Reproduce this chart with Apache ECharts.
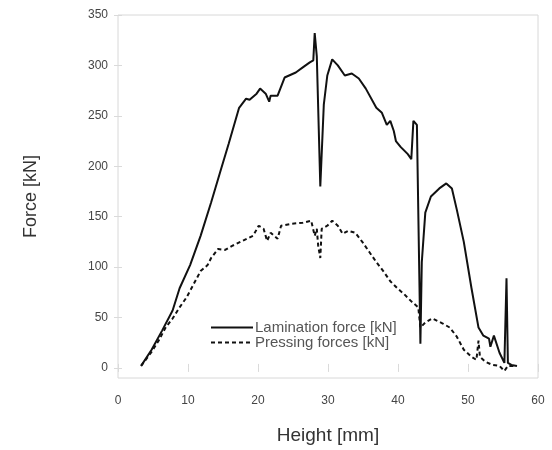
<!DOCTYPE html>
<html>
<head>
<meta charset="utf-8">
<script src="https://cdn.jsdelivr.net/npm/echarts@6/dist/echarts.min.js"></script>
<style>html,body{margin:0;padding:0;background:#fff}#c{width:552px;height:450px}</style>
</head>
<body>
<div id="c"></div>
<script>
// Height [mm] and Lamination force [kN]
var lamX = [3.3,4.8,6.3,7.8,8.8,10.3,11.8,13.3,14.8,15.8,17.3,18.3,18.8,19.8,20.3,21.1,21.6,21.8,22.1,22.8,23.8,25.4,26.4,27.4,27.9,28.1,28.4,28.9,29.4,29.9,30.6,31.4,32.4,33.4,34.4,35.4,36.9,37.7,38.4,38.9,39.4,39.7,40.4,41.4,41.9,42.2,42.7,43.2,43.4,43.9,44.7,45.9,46.9,47.7,48.4,49.4,50.5,51.5,52.2,53.0,53.2,53.7,54.5,55.2,55.5,55.7,56.2,57.0];
var lamY = [2,18,37,57,79,102,131,164,199,222,258,267,266,272,277,272,264,270,270,270,288,293,298,303,305,332,309,180,261,290,306,300,290,292,287,277,258,253,241,245,235,225,219,212,207,245,241,24,105,154,170,178,183,178,157,125,79,40,32,29,21,32,15,5,89,5,3,2];
// Height [mm] and Pressing forces [kN]
var preX = [3.3,4.8,5.8,6.8,7.8,8.8,9.8,10.8,11.8,12.8,13.3,14.3,15.3,16.3,17.8,19.3,20.1,20.8,21.3,21.8,22.8,23.3,24.8,26.4,27.6,28.1,28.4,28.6,28.9,29.1,29.9,30.6,31.4,32.1,32.9,33.9,34.9,35.9,36.9,37.9,38.9,39.9,40.9,41.9,42.9,43.2,43.9,44.9,46.4,47.4,48.4,49.4,50.5,51.2,51.5,51.7,52.5,53.5,54.5,55.2,55.7,56.5];
var preY = [2,16,27,40,49,60,70,83,96,102,109,118,117,121,126,131,141,138,126,134,128,141,143,144,146,131,138,121,109,138,141,146,141,133,136,134,125,115,105,96,86,79,73,66,60,40,45,49,44,40,31,18,11,8,27,11,6,3,2,-3,2,2];
var xTicks = [0,10,20,30,40,50,60];
var yTicks = [0,50,100,150,200,250,300,350];
var seriesNames = ['Lamination force [kN]', 'Pressing forces [kN]'];

function pairs(xs, ys){ return xs.map(function(x,i){ return [x, ys[i]]; }); }

var chart = echarts.init(document.getElementById('c'), null, {renderer:'canvas'});
var tickStyle = {show:true, inside:true, length:4, lineStyle:{color:'#dadada', width:1}};
var labelStyle = {color:'#444', fontSize:12, fontFamily:'Liberation Sans, Arial, sans-serif'};
chart.setOption({
  animation:false,
  backgroundColor:'#fff',
  grid:{left:118, right:14, top:15, bottom:67, show:true, borderColor:'#d8d8d8', borderWidth:1, containLabel:false},
  legend:{
    data:seriesNames, orient:'vertical', left:205, top:315, itemWidth:42, itemHeight:10, itemGap:0,
    itemStyle:{opacity:0, borderWidth:0},
    textStyle:{color:'#555', fontSize:15, lineHeight:15, fontFamily:'Liberation Sans, Arial, sans-serif', padding:[0,0,0,-3]},
    backgroundColor:'transparent'
  },
  xAxis:[{
    type:'value', min:0, max:60, interval:10, position:'bottom',
    axisLine:{show:false}, axisTick:tickStyle, splitLine:{show:false},
    axisLabel:Object.assign({margin:17, customValues:xTicks}, labelStyle),
    name:'Height [mm]', nameLocation:'middle', nameGap:48,
    nameTextStyle:{color:'#333', fontSize:19, fontFamily:'Liberation Sans, Arial, sans-serif'}
  },{
    type:'value', min:0, max:60, interval:10, position:'top',
    axisLine:{show:false}, axisTick:tickStyle, axisLabel:{show:false}, splitLine:{show:false}
  }],
  yAxis:[{
    type:'value', min:-10, max:350, position:'left',
    axisLine:{show:false}, splitLine:{show:false},
    axisTick:Object.assign({customValues:yTicks}, tickStyle),
    axisLabel:Object.assign({margin:10, customValues:yTicks}, labelStyle),
    name:'Force [kN]', nameLocation:'middle', nameGap:78, nameRotate:90,
    nameTextStyle:{color:'#333', fontSize:18, fontFamily:'Liberation Sans, Arial, sans-serif'}
  },{
    type:'value', min:-10, max:350, position:'right',
    axisLine:{show:false}, splitLine:{show:false},
    axisTick:Object.assign({customValues:yTicks}, tickStyle),
    axisLabel:{show:false}
  }],
  series:[{
    name:seriesNames[0], type:'line', data:pairs(lamX, lamY), symbol:'none',
    lineStyle:{color:'#111', width:2, type:'solid'}, itemStyle:{color:'#111'}
  },{
    name:seriesNames[1], type:'line', data:pairs(preX, preY), symbol:'none',
    lineStyle:{color:'#111', width:2, type:[4,3]}, itemStyle:{color:'#111'}
  }]
});
</script>
</body>
</html>
